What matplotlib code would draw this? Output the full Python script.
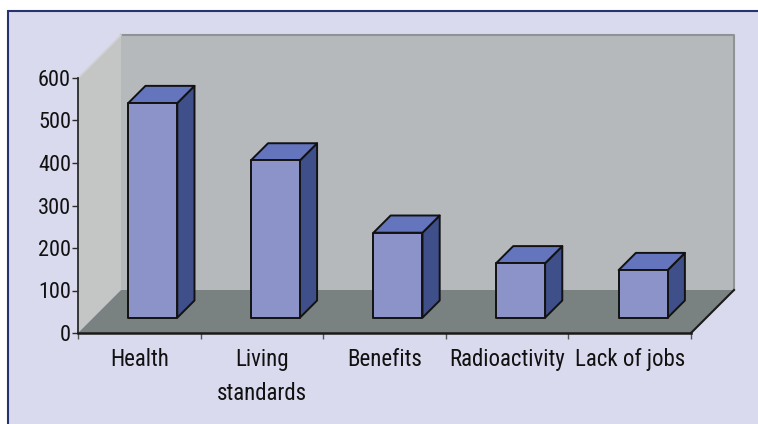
import numpy as np
import matplotlib
matplotlib.use("Agg")
import matplotlib.pyplot as plt
from matplotlib.patches import Polygon, Rectangle

# data
categories = ["Health", "Living\nstandards", "Benefits", "Radioactivity", "Lack of jobs"]
values = [505, 370, 200, 128, 112]
y_ticks = [0, 100, 200, 300, 400, 500, 600]

plt.rcParams['font.family'] = ['Roboto Condensed', 'Liberation Sans', 'DejaVu Sans']

W, H = 758, 424
fig = plt.figure(figsize=(W / 100, H / 100), dpi=100, facecolor="white")

# lavender frame with navy border (white strip top / left)
fig.patches.append(Rectangle((8 / W, -0.1), 1.1, (H - 11) / H + 0.1, transform=fig.transFigure,
                             facecolor="#d9daee", edgecolor="#27336f", lw=1.5, zorder=-10))

# front plane of the 3d box
ax_left, ax_bottom, ax_w, ax_h = 78 / W, (H - 333) / H, 613 / W, 255 / H
ax = fig.add_axes([ax_left, ax_bottom, ax_w, ax_h])
ax.patch.set_visible(False)
n = len(categories)
ax.set_xlim(-0.5, n - 0.5)
ax.set_ylim(0, 600)

# depth of the box (43 px) expressed in data units
depth_px = 43
dxd = depth_px / (ax_w * W / n)
dyd = depth_px / (ax_h * H / 600)


def proj(x, y, z):
    return (x + z * dxd, y + z * dyd)


x0, x1 = -0.5, n - 0.5
ymax = y_ticks[-1]

# walls and floor
back = [proj(x0, 0, 1), proj(x1, 0, 1), proj(x1, ymax, 1), proj(x0, ymax, 1)]
left = [proj(x0, 0, 0), proj(x0, ymax, 0), proj(x0, ymax, 1), proj(x0, 0, 1)]
floor = [proj(x0, 0, 0), proj(x1, 0, 0), proj(x1, 0, 1), proj(x0, 0, 1)]
ax.add_patch(Polygon(back, closed=True, facecolor="#b6b9bb", edgecolor="none", clip_on=False, zorder=0.5))
ax.add_patch(Polygon(left, closed=True, facecolor="#c4c6c6", edgecolor="none", clip_on=False, zorder=0.5))
ax.add_patch(Polygon(floor, closed=True, facecolor="#7a8181", edgecolor="none", clip_on=False, zorder=0.6))

bx, by = zip(proj(x0, ymax, 1), proj(x1, ymax, 1), proj(x1, 0, 1))
ax.plot(bx, by, color="#909396", lw=1.5, clip_on=False, zorder=0.55)
lx, ly = zip(proj(x0, ymax, 0), proj(x0, ymax, 1))
ax.plot(lx, ly, color="#d2d3d6", lw=1.2, clip_on=False, zorder=0.55)
rx, ry = zip(proj(x1, 0, 0), proj(x1, 0, 1))
ax.plot(rx, ry, color="#1a1a1a", lw=1.5, clip_on=False, zorder=0.7)

# bars
w = 0.40
z0, z1 = 0.356, 0.756
shift = -0.015
for i, v in enumerate(values):
    xa, xb = i - w / 2 + shift, i + w / 2 + shift
    front = [proj(xa, 0, z0), proj(xb, 0, z0), proj(xb, v, z0), proj(xa, v, z0)]
    top = [proj(xa, v, z0), proj(xb, v, z0), proj(xb, v, z1), proj(xa, v, z1)]
    side = [proj(xb, 0, z0), proj(xb, v, z0), proj(xb, v, z1), proj(xb, 0, z1)]
    for pts, col in [(side, "#3e4f8a"), (top, "#6474bd"), (front, "#8c93c9")]:
        ax.add_patch(Polygon(pts, closed=True, facecolor=col, edgecolor="#121212",
                             lw=1.4, joinstyle="round", clip_on=False, zorder=1))

# axes, ticks, labels
for s in ["top", "right"]:
    ax.spines[s].set_visible(False)
ax.spines["left"].set_color("#2a2a2a")
ax.spines["left"].set_linewidth(1.3)
ax.spines["bottom"].set_color("#1a1a1a")
ax.spines["bottom"].set_linewidth(1.8)

ax.set_yticks(y_ticks)
ax.set_yticklabels([str(t) for t in y_ticks])
ax.tick_params(axis="y", length=4, width=1, color="#2a2a2a", pad=1, labelsize=16, labelcolor="#111111")

ax.set_xticks(np.arange(x0, x1 + 0.01, 1))
ax.set_xticklabels([])
ax.tick_params(axis="x", which="major", length=4, width=1, color="#555555")
ax.set_xticks(np.arange(n), minor=True)
ax.set_xticklabels(categories, minor=True, linespacing=1.6)
ax.tick_params(axis="x", which="minor", length=0, pad=11, labelsize=16.5, labelcolor="#111111")

fig.savefig("out.png", dpi=100)
